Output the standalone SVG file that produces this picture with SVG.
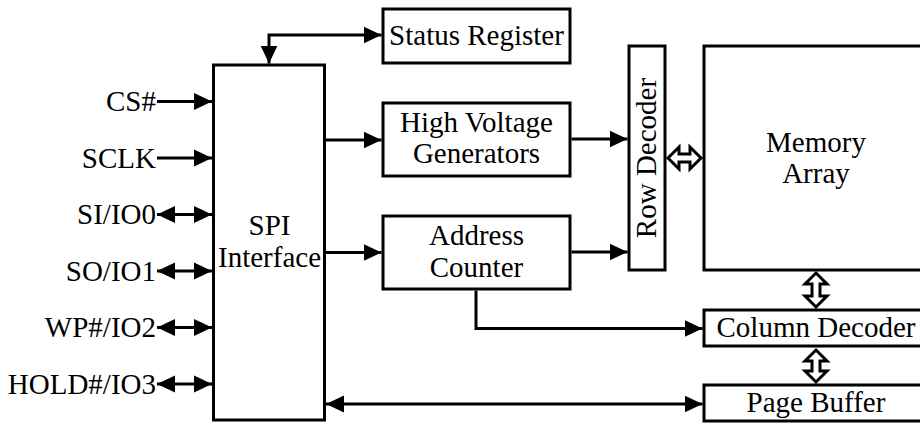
<svg xmlns="http://www.w3.org/2000/svg" width="920" height="425" viewBox="0 0 920 425">
<style>
.box{fill:#fff;stroke:#000;stroke-width:3}
.ln{fill:none;stroke:#000;stroke-width:3}
.hol{fill:#fff;stroke:#000;stroke-width:3;stroke-linejoin:miter}
.c{text-anchor:middle}
.r{text-anchor:end}
</style>
<defs>
<marker id="ah" markerUnits="userSpaceOnUse" markerWidth="18" markerHeight="18" refX="18" refY="8.5" orient="auto-start-reverse" viewBox="0 0 18 17">
<path d="M0,0 L18,8.5 L0,17 z" fill="#000"/>
</marker>
</defs>
<rect width="920" height="425" fill="#fff"/>
<g id="connectors">
<path class="ln" d="M157,101.5 H212" marker-end="url(#ah)"/>
<path class="ln" d="M157,158 H212" marker-end="url(#ah)"/>
<path class="ln" d="M157,214.5 H212" marker-start="url(#ah)" marker-end="url(#ah)"/>
<path class="ln" d="M157,271 H212" marker-start="url(#ah)" marker-end="url(#ah)"/>
<path class="ln" d="M157,327.5 H212" marker-start="url(#ah)" marker-end="url(#ah)"/>
<path class="ln" d="M157,384 H212" marker-start="url(#ah)" marker-end="url(#ah)"/>
<path class="ln" d="M269,63.5 V35 H381.5" marker-start="url(#ah)" marker-end="url(#ah)"/>
<path class="ln" d="M326,140 H381.5" marker-end="url(#ah)"/>
<path class="ln" d="M326,252.5 H381.5" marker-end="url(#ah)"/>
<path class="ln" d="M571.5,139 H627.5" marker-end="url(#ah)"/>
<path class="ln" d="M571.5,252 H627.5" marker-end="url(#ah)"/>
<path class="ln" d="M476,290.5 V328.5 H702.5" marker-end="url(#ah)"/>
<path class="ln" d="M326,404 H702.5" marker-start="url(#ah)" marker-end="url(#ah)"/>
<polygon class="hol" points="668,158 679,147 679,154 690,154 690,147 701,158 690,169 690,162 679,162 679,169"/>
<polygon class="hol" points="816,273 827,284 820,284 820,296 827,296 816,307 805,296 812,296 812,284 805,284"/>
<polygon class="hol" points="816,350 827,361 820,361 820,371 827,371 816,382 805,371 812,371 812,361 805,361"/>
</g>
<g font-family="'Liberation Serif', 'Times New Roman', 'DejaVu Serif', serif" font-size="29" fill="#000">
<g id="pins">
<text class="r" x="156" y="111">CS#</text>
<text class="r" x="156" y="167.5">SCLK</text>
<text class="r" x="156" y="224">SI/IO0</text>
<text class="r" x="156" y="280.5">SO/IO1</text>
<text class="r" x="156" y="337">WP#/IO2</text>
<text class="r" x="156" y="393.5">HOLD#/IO3</text>
</g>
<g id="spi">
<rect class="box" x="213.5" y="65" width="111" height="355"/>
<text class="c" x="269.5" y="235">SPI</text>
<text class="c" x="269.5" y="266.5">Interface</text>
</g>
<g id="status">
<rect class="box" x="383" y="9" width="187" height="54"/>
<text class="c" x="476.5" y="45">Status Register</text>
</g>
<g id="hv">
<rect class="box" x="383" y="103" width="187" height="73"/>
<text class="c" x="476.5" y="131.5">High Voltage</text>
<text class="c" x="476.5" y="163">Generators</text>
</g>
<g id="addr">
<rect class="box" x="383" y="216" width="187" height="73"/>
<text class="c" x="476.5" y="245">Address</text>
<text class="c" x="476.5" y="277">Counter</text>
</g>
<g id="rowdec">
<rect class="box" x="629" y="46" width="36" height="224"/>
<text class="c" transform="translate(656,158) rotate(-90)">Row Decoder</text>
</g>
<g id="memory">
<rect class="box" x="704" y="46" width="230" height="224"/>
<text class="c" x="816" y="151.5">Memory</text>
<text class="c" x="816" y="183">Array</text>
</g>
<g id="coldec">
<rect class="box" x="704" y="310" width="230" height="36"/>
<text class="c" x="816" y="337">Column Decoder</text>
</g>
<g id="pagebuf">
<rect class="box" x="704" y="385" width="230" height="36"/>
<text class="c" x="816" y="412">Page Buffer</text>
</g>
</g>
</svg>
